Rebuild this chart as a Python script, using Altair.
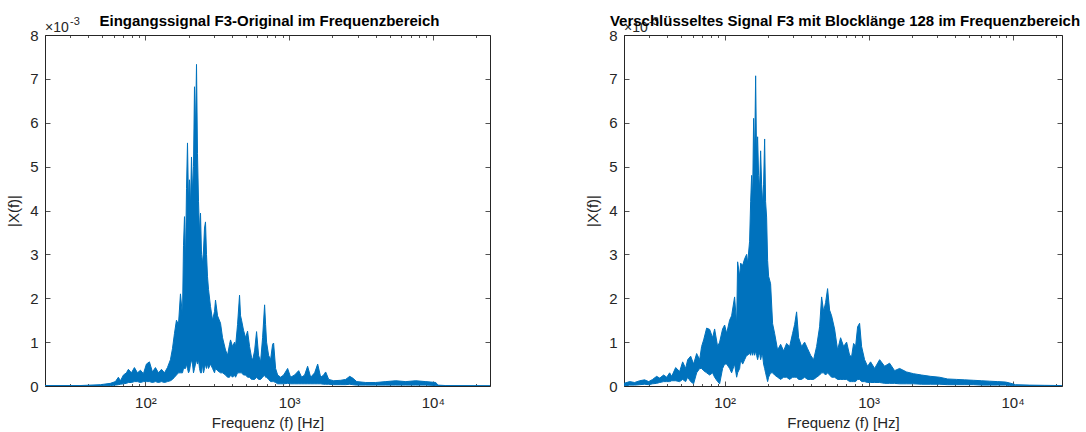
import altair as alt
import pandas as pd

BLUE = "#0072BD"
INK = "#262626"
FONT = "Liberation Sans"
H = 351

# ---------------- data (|X(f)| in units of 1e-3) ----------------
# Left panel: original input signal F3
f1 = [20, 35, 48.6, 57, 61.8, 64.8, 67, 70.3, 73.7, 76.1, 79.9, 83.8, 88.0, 92.3, 96.8,
      101.6, 106.6, 111.9, 117.4, 123.2, 129.3, 135.7, 142.3, 149.3, 154.2, 159.3, 164.4,
      169.8, 175.3, 181.1, 184.0, 187.0, 190.0, 193.1, 196.2, 199.4, 202.6, 205.9, 209.2,
      212.6, 216.0, 219.5, 223.0, 226.7, 230.3, 234.1, 237.8, 241.7, 245.6, 249.6, 253.7,
      257.7, 261.8, 266.1, 270.4, 274.8, 283.7, 293.1, 302.6, 307.4, 317.6, 333.1, 344.1,
      360.9, 372.7, 385.0, 391.1, 404.0, 417.1, 423.8, 437.6, 451.8, 459.2, 466.6, 481.7,
      497.6, 513.7, 530.5, 547.7, 556.8, 574.9, 593.5, 613.0, 632.9, 653.5, 675.0, 685.9,
      696.8, 719.6, 743.0, 767.3, 779.8, 805.2, 831.7, 872.8, 915.6, 976.1, 1024, 1092,
      1165, 1222, 1282, 1345, 1412, 1505, 1580, 1658, 1739, 1796, 1885, 2042, 2285, 2475,
      2640, 2770, 2954, 3413, 4007, 4705, 5524, 6484, 7612, 8938, 10493, 10840, 12320, 25000]
hi1 = [0.01, 0.01, 0.03, 0.06, 0.10, 0.20, 0.12, 0.25, 0.30, 0.38, 0.30, 0.42, 0.30, 0.36, 0.28,
       0.50, 0.55, 0.32, 0.42, 0.30, 0.38, 0.30, 0.42, 0.60, 0.85, 1.20, 1.50,
       1.40, 2.10, 1.60, 3.20, 3.86, 2.80, 4.50, 5.54, 4.20, 4.70, 4.10, 5.22,
       4.40, 5.00, 6.82, 5.80, 7.33, 5.30, 4.20, 3.50, 3.94, 3.00, 2.80, 3.10,
       3.60, 3.74, 3.00, 2.49, 2.20, 1.81, 1.50, 1.70, 1.96, 1.60, 1.43, 1.10,
       0.82, 0.70, 0.95, 1.05, 0.90, 1.00, 0.90, 1.40, 2.07, 1.60, 1.50, 1.27,
       1.10, 1.25, 0.90, 0.65, 0.59, 0.80, 1.24, 0.70, 0.55, 1.10, 1.85, 1.40,
       1.00, 0.70, 0.60, 0.95, 0.98, 0.40, 0.25, 0.20, 0.25, 0.40, 0.20, 0.25,
       0.35, 0.20, 0.25, 0.45, 0.20, 0.30, 0.50, 0.20, 0.25, 0.32, 0.15, 0.12, 0.13, 0.15,
       0.22, 0.18, 0.10, 0.08, 0.08, 0.10, 0.12, 0.10, 0.12, 0.10, 0.08, 0.02, 0.01, 0.005]
lo1 = [0, 0, 0, 0.01, 0.02, 0.03, 0.04, 0.05, 0.06, 0.08, 0.08, 0.10, 0.10, 0.08, 0.10,
       0.10, 0.10, 0.08, 0.10, 0.08, 0.10, 0.08, 0.10, 0.12, 0.15, 0.20, 0.25,
       0.30, 0.30, 0.30, 0.40, 0.40, 0.40, 0.50, 0.40, 0.30, 0.35, 0.50, 0.60,
       0.50, 0.30, 0.40, 0.50, 0.60, 0.50, 0.60, 0.40, 0.30, 0.30, 0.50, 0.30,
       0.40, 0.50, 0.40, 0.50, 0.40, 0.50, 0.40, 0.30, 0.40, 0.35, 0.30, 0.30,
       0.25, 0.20, 0.20, 0.25, 0.20, 0.25, 0.20, 0.30, 0.30, 0.30, 0.30, 0.25,
       0.25, 0.20, 0.20, 0.15, 0.15, 0.15, 0.20, 0.15, 0.15, 0.20, 0.25, 0.20,
       0.20, 0.15, 0.10, 0.10, 0.10, 0.08, 0.05, 0.05, 0.05, 0.06, 0.05, 0.05,
       0.05, 0.05, 0.05, 0.05, 0.05, 0.05, 0.05, 0.05, 0.04, 0.04, 0.04, 0.03, 0.03, 0.03,
       0.04, 0.03, 0.02, 0.02, 0.02, 0.02, 0.02, 0.02, 0.02, 0.02, 0.01, 0, 0, 0]

# Right panel: encrypted signal F3, block length 128
f2 = [20, 21.9, 23.7, 25.7, 27.8, 29.7, 31.6, 33.7, 35.4, 37.7, 39.6, 41.5, 42.9, 45.7, 48.7,
      51.1, 53.6, 55.4, 58.1, 60.9, 63.9, 67.1, 69.2, 71.5, 75.0, 78.7, 82.5, 85.2, 89.4,
      92.3, 96.8, 100, 103.3, 108.3, 111.8, 117.3, 121.2, 123.1, 127.2, 129.2, 133.4, 137.7,
      142.2, 144.5, 149.1, 151.6, 154.0, 156.5, 159.0, 161.6, 164.2, 166.8, 169.5, 172.2,
      175.0, 177.8, 180.7, 183.6, 186.5, 189.6, 192.6, 195.7, 198.9, 202.1, 208.6, 215.4,
      222.4, 233.3, 244.9, 256.9, 269.5, 282.8, 296.6, 306.3, 316.2, 326.5, 342.5, 359.4,
      377.0, 395.6, 415.0, 435.5, 456.8, 471.7, 486.9, 502.7, 519.0, 535.9, 553.4, 580.5,
      609.1, 639.1, 670.6, 703.6, 738.0, 762.1, 786.8, 812.4, 838.9, 866.0, 894.2, 937.9,
      984.1, 1032, 1101, 1193, 1292, 1399, 1516, 1642, 1836, 2054, 2333, 2696, 3112, 3537,
      4083, 4642, 5358, 6091, 6920, 7867, 8941, 9532, 10490, 13120, 16680, 22000]
hi2 = [0.06, 0.10, 0.08, 0.12, 0.14, 0.10, 0.15, 0.22, 0.18, 0.25, 0.20, 0.30, 0.22, 0.42, 0.33,
       0.55, 0.40, 0.60, 0.68, 0.50, 0.74, 0.60, 0.90, 1.05, 1.32, 1.29, 1.10, 1.30, 0.90,
       1.00, 1.30, 1.39, 1.20, 1.50, 1.60, 2.03, 1.40, 2.83, 2.50, 2.80, 2.75, 2.90,
       3.00, 2.80, 3.30, 4.20, 4.80, 4.30, 6.10, 5.20, 7.07, 5.14, 5.68, 4.80,
       4.50, 5.36, 4.60, 4.15, 4.60, 5.63, 4.20, 3.85, 2.86, 2.50, 2.33, 1.42,
       1.20, 0.82, 0.95, 0.80, 0.97, 0.90, 1.20, 1.40, 1.69, 1.10, 0.90, 1.00,
       0.85, 0.70, 0.60, 0.90, 1.35, 2.03, 1.70, 1.90, 2.22, 1.73, 1.60, 1.30,
       0.82, 1.10, 0.90, 1.00, 0.70, 0.67, 0.97, 0.90, 1.35, 1.43, 0.90, 0.60,
       0.45, 0.55, 0.40, 0.60, 0.45, 0.52, 0.35, 0.40, 0.32, 0.28, 0.25, 0.22, 0.20, 0.16,
       0.15, 0.14, 0.13, 0.12, 0.11, 0.10, 0.09, 0.07, 0.03, 0.02, 0.015, 0.01]
lo2 = [0.0, 0.02, 0.02, 0.03, 0.04, 0.03, 0.05, 0.06, 0.08, 0.10, 0.10, 0.10, 0.12, 0.12, 0.10,
       0.15, 0.10, 0.20, 0.10, 0.05, 0.30, 0.40, 0.40, 0.35, 0.30, 0.25, 0.30, 0.20, 0.10,
       0.05, 0.40, 0.50, 0.50, 0.40, 0.30, 0.50, 0.20, 0.30, 0.40, 0.60, 0.50, 0.60,
       0.70, 0.70, 0.75, 0.70, 0.80, 0.70, 0.80, 0.70, 0.80, 0.70, 0.60, 0.70,
       0.75, 0.60, 0.70, 0.70, 0.50, 0.40, 0.30, 0.20, 0.10, 0.20, 0.30, 0.30,
       0.25, 0.20, 0.15, 0.20, 0.20, 0.15, 0.20, 0.20, 0.20, 0.15, 0.15, 0.20,
       0.15, 0.15, 0.15, 0.20, 0.25, 0.30, 0.30, 0.25, 0.30, 0.25, 0.20, 0.20,
       0.15, 0.15, 0.15, 0.15, 0.10, 0.10, 0.10, 0.10, 0.15, 0.15, 0.10, 0.10,
       0.08, 0.08, 0.08, 0.08, 0.06, 0.06, 0.06, 0.05, 0.05, 0.05, 0.04, 0.04, 0.04, 0.03,
       0.03, 0.03, 0.03, 0.02, 0.02, 0.02, 0.02, 0.01, 0.005, 0, 0, 0]

TITLE1 = "Eingangssignal F3-Original im Frequenzbereich"
TITLE2 = "Verschlüsseltes Signal F3 mit Blocklänge 128 im Frequenzbereich"
XTITLE = "Frequenz (f) [Hz]"
YTITLE = "|X(f)|"
Y_TICKS = [0, 1, 2, 3, 4, 5, 6, 7, 8]
X_TICKS = [20, 30, 40, 50, 60, 70, 80, 90,
           100, 200, 300, 400, 500, 600, 700, 800, 900,
           1000, 2000, 3000, 4000, 5000, 6000, 7000, 8000, 9000,
           10000, 20000]
LABEL_EXPR = ("datum.value == 100 ? '10\u00b2' : datum.value == 1000 ? '10\u00b3' : "
              "datum.value == 10000 ? '10\u2074' : ''")
MAJOR = "datum.value == 100 || datum.value == 1000 || datum.value == 10000"
FS = 15


def panel(freqs, hi, lo, xdom, width, title):
    df = pd.DataFrame({"f": freqs, "hi": hi, "lo": lo})
    xs = alt.Scale(type="log", domain=xdom, nice=False, clamp=True)
    ys = alt.Scale(domain=[0, 8], nice=False)
    common = dict(domain=False, grid=False)
    tick_sz = {"condition": {"test": MAJOR, "value": 5}, "value": 2.5}

    x_main = alt.X("f:Q", scale=xs, axis=alt.Axis(
        orient="bottom", values=X_TICKS, labelExpr=LABEL_EXPR, ticks=False,
        labelFont=FONT, labelFontSize=FS, labelColor=INK, labelPadding=9,
        labelOverlap=False, labelFlush=False, title=XTITLE, titleFont=FONT,
        titleFontSize=FS, titleFontWeight="normal", titleColor=INK, titlePadding=5,
        **common))
    y_main = alt.Y("lo:Q", scale=ys, axis=alt.Axis(
        orient="left", values=Y_TICKS, ticks=False, labelFont=FONT, labelFontSize=FS,
        labelColor=INK, labelPadding=7, title=YTITLE, titleFont=FONT, titleFontSize=FS,
        titleFontWeight="normal", titleColor=INK, titlePadding=8, **common))

    area = alt.Chart(df).mark_area(color=BLUE, opacity=1, clip=True).encode(
        x=x_main, y=y_main, y2="hi:Q")

    top_line = alt.Chart(df).mark_line(color=BLUE, strokeWidth=1, clip=True).encode(
        x=alt.X("f:Q", scale=xs, axis=alt.Axis(
            orient="top", offset=-H, values=X_TICKS, labels=False, tickSize=tick_sz,
            tickColor=INK, tickWidth=0.8, title=None, **common)),
        y=alt.Y("hi:Q", scale=ys, axis=alt.Axis(
            orient="right", offset=-width, values=Y_TICKS, labels=False, tickSize=5,
            tickColor=INK, tickWidth=0.8, title=None, **common)))

    low_line = alt.Chart(df).mark_line(color=BLUE, strokeWidth=1, clip=True).encode(
        x=alt.X("f:Q", scale=xs, axis=alt.Axis(
            orient="bottom", offset=-H, values=X_TICKS, labels=False, tickSize=tick_sz,
            tickColor=INK, tickWidth=0.8, title=None, **common)),
        y=alt.Y("lo:Q", scale=ys, axis=alt.Axis(
            orient="left", offset=-width, values=Y_TICKS, labels=False, tickSize=5,
            tickColor=INK, tickWidth=0.8, title=None, **common)))

    one = pd.DataFrame({"k": [0]})
    exp_base = alt.Chart(one).mark_text(
        font=FONT, fontSize=14, color=INK, align="left", baseline="alphabetic").encode(
        x=alt.value(0), y=alt.value(-3), text=alt.value("\u00d710"))
    exp_sup = alt.Chart(one).mark_text(
        font=FONT, fontSize=11, color=INK, align="left", baseline="alphabetic").encode(
        x=alt.value(25), y=alt.value(-10), text=alt.value("-3"))
    ttl = alt.Chart(one).mark_text(
        font=FONT, fontSize=FS, fontWeight="bold", color="black", align="center",
        baseline="alphabetic").encode(
        x=alt.value(width / 2 + 2), y=alt.value(-9), text=alt.value(title))

    return alt.layer(area, top_line, low_line, exp_base, exp_sup, ttl).resolve_axis(
        x="independent", y="independent").properties(width=width, height=H)


left = panel(f1, hi1, lo1, [20, 25000], 445, TITLE1)
right = panel(f2, hi2, lo2, [20, 22050], 438, TITLE2)

chart = alt.hconcat(left, right, spacing=134, bounds="flush").properties(
    padding={"left": 6, "top": 13, "right": 0, "bottom": 0},
    background="white",
).configure_view(stroke=INK, strokeWidth=1)

chart.save("out.html", embed_options={"renderer": "svg", "actions": False})
